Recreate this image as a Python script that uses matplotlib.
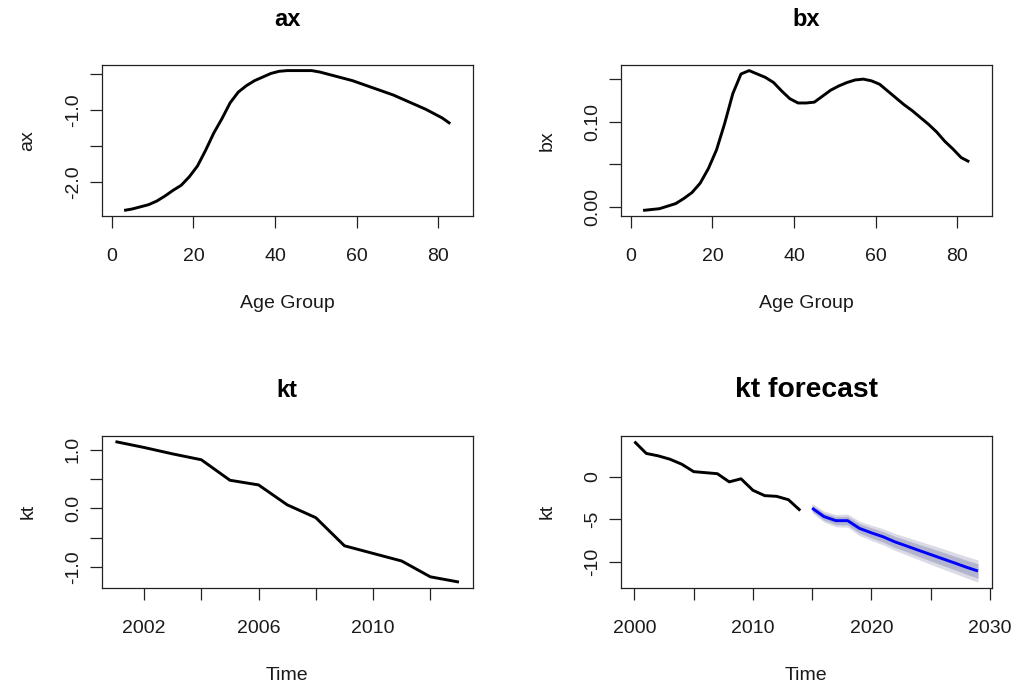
import matplotlib
matplotlib.use("Agg")
import matplotlib.pyplot as plt

plt.rcParams['font.family'] = ['Liberation Sans', 'DejaVu Sans']

# ---------------- data ----------------
ages = list(range(3, 84, 2))
ax_vals = [-2.40, -2.38, -2.35, -2.32, -2.27, -2.20, -2.12, -2.05, -1.93, -1.78,
           -1.56, -1.32, -1.12, -0.90, -0.75, -0.66, -0.59, -0.54, -0.49, -0.46,
           -0.45, -0.45, -0.45, -0.45, -0.47, -0.50, -0.53, -0.56, -0.59, -0.63,
           -0.67, -0.71, -0.75, -0.79, -0.84, -0.89, -0.94, -0.99, -1.05, -1.11,
           -1.19]
bx_vals = [-0.004, -0.003, -0.002, 0.001, 0.004, 0.010, 0.017, 0.028, 0.045, 0.067,
           0.098, 0.133, 0.156, 0.160, 0.156, 0.152, 0.146, 0.136, 0.127, 0.122,
           0.122, 0.123, 0.130, 0.137, 0.142, 0.146, 0.149, 0.150, 0.148, 0.144,
           0.136, 0.128, 0.120, 0.113, 0.105, 0.097, 0.088, 0.077, 0.068, 0.058,
           0.053]

kt_years = list(range(2001, 2014))
kt_vals = [1.14, 1.04, 0.93, 0.83, 0.48, 0.40, 0.06, -0.16, -0.64, -0.77, -0.90, -1.17, -1.26]

hist_years = list(range(2000, 2015))
hist_kt = [4.13, 2.74, 2.46, 2.06, 1.47, 0.60, 0.48, 0.36, -0.60, -0.24,
           -1.59, -2.22, -2.30, -2.70, -3.97]

fc_years = list(range(2015, 2030))
fc_mean = [-3.69, -4.68, -5.16, -5.16, -6.07, -6.59, -7.06, -7.66, -8.15, -8.65,
           -9.14, -9.63, -10.12, -10.62, -11.08]
fc_lo80 = [-4.05, -5.10, -5.63, -5.67, -6.62, -7.18, -7.68, -8.31, -8.83, -9.37,
           -9.89, -10.41, -10.91, -11.44, -11.93]
fc_hi80 = [-3.33, -4.26, -4.69, -4.65, -5.52, -6.00, -6.44, -7.01, -7.47, -7.93,
           -8.39, -8.85, -9.33, -9.80, -10.23]
fc_lo95 = [-4.24, -5.33, -5.88, -5.94, -6.92, -7.49, -8.01, -8.66, -9.20, -9.75,
           -10.29, -10.83, -11.34, -11.88, -12.38]
fc_hi95 = [-3.14, -4.03, -4.44, -4.38, -5.22, -5.69, -6.11, -6.66, -7.10, -7.55,
           -7.99, -8.43, -8.90, -9.36, -9.78]

age_ticks = [0, 20, 40, 60, 80]
age_ticklabels = ['0', '20', '40', '60', '80']
ax_yticks = [-2.0, -1.5, -1.0, -0.5]
ax_yticklabels = ['-2.0', '', '-1.0', '']
bx_yticks = [0.00, 0.05, 0.10, 0.15]
bx_yticklabels = ['0.00', '', '0.10', '']
kt_xticks = [2002, 2004, 2006, 2008, 2010, 2012]
kt_xticklabels = ['2002', '', '2006', '', '2010', '']
kt_yticks = [-1.0, -0.5, 0.0, 0.5, 1.0]
kt_yticklabels = ['-1.0', '', '0.0', '', '1.0']
fc_xticks = [2000, 2005, 2010, 2015, 2020, 2025, 2030]
fc_xticklabels = ['2000', '', '2010', '', '2020', '', '2030']
fc_yticks = [-10, -5, 0]
fc_yticklabels = ['-10', '-5', '0']

# ---------------- layout ----------------
W, H = 1017, 687
fig = plt.figure(figsize=(W / 100, H / 100), dpi=100)
fig.patch.set_facecolor('white')


def add_axes(l, t, r, b):
    return fig.add_axes([l / W, 1 - b / H, (r - l) / W, (b - t) / H])


def rlim(vals):
    lo, hi = min(vals), max(vals)
    p = 0.04 * (hi - lo)
    return lo - p, hi + p


def style(ax, xt, xl, yt, yl, title, xlabel, ylabel, tsize=17):
    for s in ax.spines.values():
        s.set_linewidth(0.9)
        s.set_color('#222222')
    ax.tick_params(direction='out', length=8.6, width=0.9, color='#222222',
                   labelsize=14, labelcolor='#1a1a1a')
    ax.tick_params(axis='x', pad=14.5)
    ax.tick_params(axis='y', pad=5.7)
    ax.set_xticks(xt)
    ax.set_xticklabels(xl)
    ax.set_yticks(yt)
    ax.set_yticklabels(yl, rotation=90, va='center')
    ax.set_title(title, fontsize=tsize, fontweight='bold', pad=28)
    ax.set_xlabel(xlabel, fontsize=14, labelpad=21.5, color='#1a1a1a')
    ax.set_ylabel(ylabel, fontsize=14, labelpad=20.5, color='#1a1a1a')


lw = 2.1

# ax panel
a1 = add_axes(101.7, 65, 472.7, 216)
a1.plot(ages, ax_vals, color='black', lw=lw, solid_capstyle='butt')
style(a1, age_ticks, age_ticklabels, ax_yticks, ax_yticklabels, 'ax', 'Age Group', 'ax')
a1.set_xlim(-2.5, 88.5)
a1.set_ylim(*rlim(ax_vals))

# bx panel
a2 = add_axes(620.7, 65, 991.7, 216)
a2.plot(ages, bx_vals, color='black', lw=lw, solid_capstyle='butt')
style(a2, age_ticks, age_ticklabels, bx_yticks, bx_yticklabels, 'bx', 'Age Group', 'bx')
a2.set_xlim(-2.5, 88.5)
a2.set_ylim(*rlim(bx_vals))

# kt panel
a3 = add_axes(101.7, 436, 472.7, 587.7)
a3.plot(kt_years, kt_vals, color='black', lw=lw, solid_capstyle='butt')
style(a3, kt_xticks, kt_xticklabels, kt_yticks, kt_yticklabels, 'kt', 'Time', 'kt')
a3.set_xlim(*rlim(kt_years))
a3.set_ylim(*rlim(kt_vals))

# kt forecast panel
a4 = add_axes(620.7, 436, 991.7, 587.7)
a4.fill_between(fc_years, fc_lo95, fc_hi95, color='#DBDBE6', lw=0)
a4.fill_between(fc_years, fc_lo80, fc_hi80, color='#B3B5CF', lw=0)
a4.plot(hist_years, hist_kt, color='black', lw=lw, solid_capstyle='butt')
a4.plot(fc_years, fc_mean, color='#0000FF', lw=lw, solid_capstyle='butt')
style(a4, fc_xticks, fc_xticklabels, fc_yticks, fc_yticklabels, 'kt forecast', 'Time', 'kt',
      tsize=20.3)
a4.set_xlim(*rlim(hist_years + fc_years))
a4.set_ylim(*rlim(hist_kt + fc_lo95 + fc_hi95))

fig.savefig('out.png', dpi=100, facecolor='white')
